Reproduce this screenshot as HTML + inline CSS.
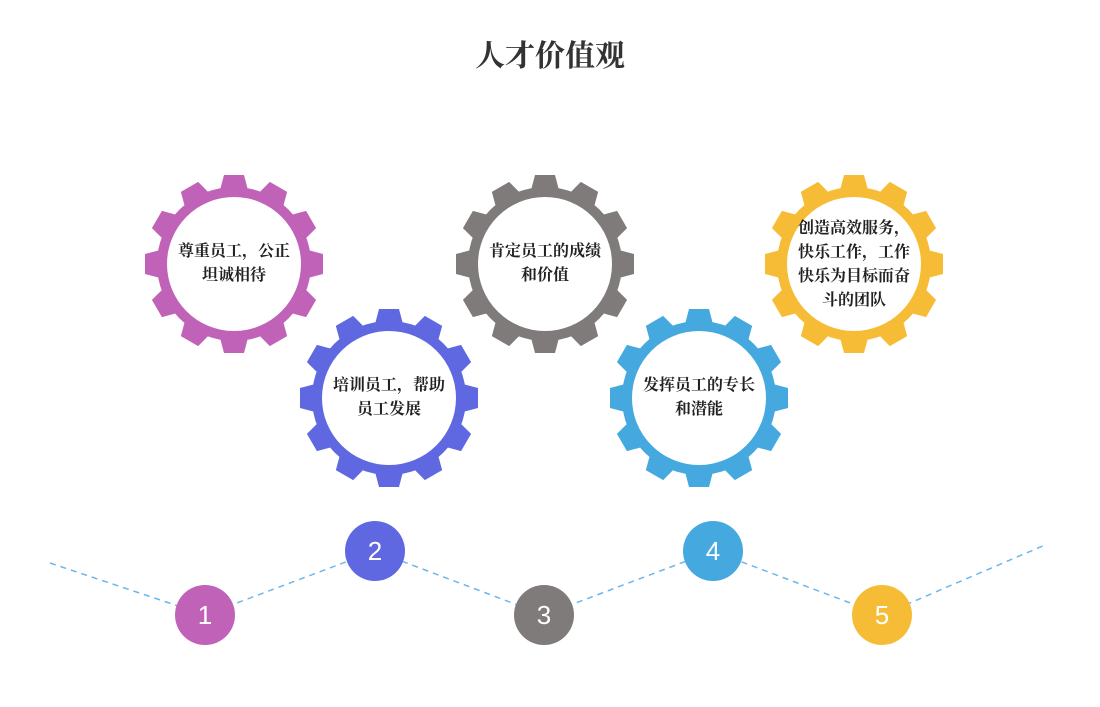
<!DOCTYPE html>
<html><head><meta charset="utf-8"><style>
body{margin:0;background:#fff;width:1100px;height:707px;overflow:hidden}
svg{display:block}
.t{font-family:"Liberation Serif","Noto Serif CJK SC",serif;font-weight:bold;font-size:16px;fill:#222;text-anchor:middle}
.n{font-family:"Liberation Sans",sans-serif;font-size:26px;fill:#fff;text-anchor:middle}
</style></head><body>
<svg width="1100" height="707" viewBox="0 0 1100 707">
<defs>
<g id="gear">
<circle r="77"/>
<polygon points="-15,-70 -10,-89 10,-89 15,-70" transform="rotate(0)"/>
<polygon points="-15,-70 -10,-89 10,-89 15,-70" transform="rotate(30)"/>
<polygon points="-15,-70 -10,-89 10,-89 15,-70" transform="rotate(60)"/>
<polygon points="-15,-70 -10,-89 10,-89 15,-70" transform="rotate(90)"/>
<polygon points="-15,-70 -10,-89 10,-89 15,-70" transform="rotate(120)"/>
<polygon points="-15,-70 -10,-89 10,-89 15,-70" transform="rotate(150)"/>
<polygon points="-15,-70 -10,-89 10,-89 15,-70" transform="rotate(180)"/>
<polygon points="-15,-70 -10,-89 10,-89 15,-70" transform="rotate(210)"/>
<polygon points="-15,-70 -10,-89 10,-89 15,-70" transform="rotate(240)"/>
<polygon points="-15,-70 -10,-89 10,-89 15,-70" transform="rotate(270)"/>
<polygon points="-15,-70 -10,-89 10,-89 15,-70" transform="rotate(300)"/>
<polygon points="-15,-70 -10,-89 10,-89 15,-70" transform="rotate(330)"/>
<circle r="67" fill="#fff"/>
</g>
</defs>
<text x="550" y="66" style="font-family:'Liberation Serif','Noto Serif CJK SC',serif;font-weight:bold;font-size:30px;fill:#333;text-anchor:middle">人才价值观</text>

<polyline points="50,563 205,615 375,551 544,615 713,551 882,615 1045,545" fill="none" stroke="#6db6ea" stroke-width="1.5" stroke-dasharray="6,5"/>

<use href="#gear" x="234" y="264" fill="#c063b8"/>
<use href="#gear" x="389" y="398" fill="#5f68e0"/>
<use href="#gear" x="545" y="264" fill="#807b7b"/>
<use href="#gear" x="699" y="398" fill="#45a9e0"/>
<use href="#gear" x="854" y="264" fill="#f7bc36"/>

<text class="t" x="234" y="256">尊重员工，公正</text>
<text class="t" x="234" y="280">坦诚相待</text>
<text class="t" x="389" y="390">培训员工，帮助</text>
<text class="t" x="389" y="414">员工发展</text>
<text class="t" x="545" y="256">肯定员工的成绩</text>
<text class="t" x="545" y="280">和价值</text>
<text class="t" x="699" y="390">发挥员工的专长</text>
<text class="t" x="699" y="414">和潜能</text>
<text class="t" x="854" y="233">创造高效服务，</text>
<text class="t" x="854" y="257">快乐工作，工作</text>
<text class="t" x="854" y="281">快乐为目标而奋</text>
<text class="t" x="854" y="305">斗的团队</text>

<circle cx="205" cy="615" r="30" fill="#c063b8"/><text class="n" x="205" y="624">1</text>
<circle cx="375" cy="551" r="30" fill="#5f68e0"/><text class="n" x="375" y="560">2</text>
<circle cx="544" cy="615" r="30" fill="#807b7b"/><text class="n" x="544" y="624">3</text>
<circle cx="713" cy="551" r="30" fill="#45a9e0"/><text class="n" x="713" y="560">4</text>
<circle cx="882" cy="615" r="30" fill="#f7bc36"/><text class="n" x="882" y="624">5</text>
</svg>
</body></html>
